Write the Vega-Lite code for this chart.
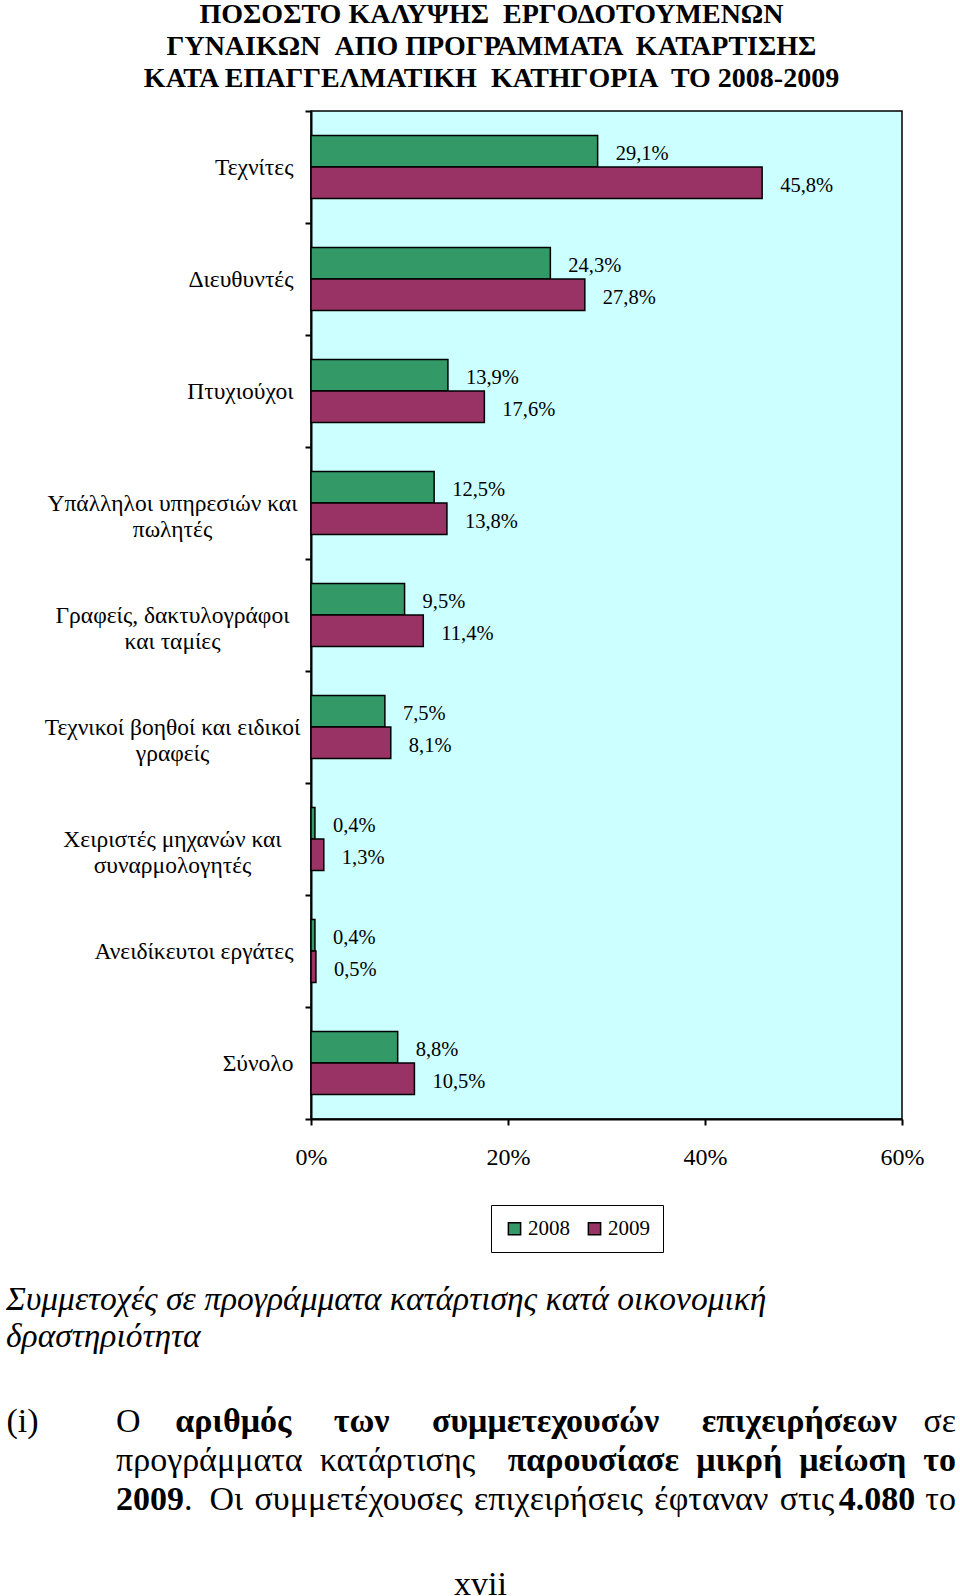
{
  "$schema": "https://vega.github.io/schema/vega-lite/v6.json",
  "padding": {"left": 5, "top": 0, "right": 0, "bottom": 0},
  "background": "white",
  "spacing": 112,
  "config": {
    "font": "Liberation Serif",
    "locale": {"number": {"decimal": ",", "thousands": ".", "grouping": [3], "currency": ["", " €"]}},
    "axis": {"labelColor": "black", "titleColor": "black", "labelFont": "Liberation Serif", "titleFont": "Liberation Serif"},
    "title": {"color": "black", "font": "Liberation Serif"}
  },
  "vconcat": [
    {
      "title": {
        "text": ["ΠΟΣΟΣΤΟ ΚΑΛΥΨΗΣ \u00a0ΕΡΓΟΔΟΤΟΥΜΕΝΩΝ", "ΓΥΝΑΙΚΩΝ \u00a0ΑΠΟ ΠΡΟΓΡΑΜΜΑΤΑ \u00a0ΚΑΤΑΡΤΙΣΗΣ", "ΚΑΤΑ ΕΠΑΓΓΕΛΜΑΤΙΚΗ \u00a0ΚΑΤΗΓΟΡΙΑ \u00a0ΤΟ 2008-2009"],
        "fontSize": 28,
        "fontWeight": "bold",
        "lineHeight": 32,
        "offset": 6,
        "anchor": "middle",
        "dx": -115
      },
      "width": 591,
      "height": 1008,
      "view": {"fill": "#CCFFFF", "stroke": "black", "strokeWidth": 1.5},
      "data": {"values": [
        {"category": "Τεχνίτες", "year": "2008", "share": 0.291},
        {"category": "Τεχνίτες", "year": "2009", "share": 0.458},
        {"category": "Διευθυντές", "year": "2008", "share": 0.243},
        {"category": "Διευθυντές", "year": "2009", "share": 0.278},
        {"category": "Πτυχιούχοι", "year": "2008", "share": 0.139},
        {"category": "Πτυχιούχοι", "year": "2009", "share": 0.176},
        {"category": "Υπάλληλοι υπηρεσιών και\nπωλητές", "year": "2008", "share": 0.125},
        {"category": "Υπάλληλοι υπηρεσιών και\nπωλητές", "year": "2009", "share": 0.138},
        {"category": "Γραφείς, δακτυλογράφοι\nκαι ταμίες", "year": "2008", "share": 0.095},
        {"category": "Γραφείς, δακτυλογράφοι\nκαι ταμίες", "year": "2009", "share": 0.114},
        {"category": "Τεχνικοί βοηθοί και ειδικοί\nγραφείς", "year": "2008", "share": 0.075},
        {"category": "Τεχνικοί βοηθοί και ειδικοί\nγραφείς", "year": "2009", "share": 0.081},
        {"category": "Χειριστές μηχανών και\nσυναρμολογητές", "year": "2008", "share": 0.004},
        {"category": "Χειριστές μηχανών και\nσυναρμολογητές", "year": "2009", "share": 0.013},
        {"category": "Ανειδίκευτοι εργάτες", "year": "2008", "share": 0.004},
        {"category": "Ανειδίκευτοι εργάτες", "year": "2009", "share": 0.005},
        {"category": "Σύνολο", "year": "2008", "share": 0.088},
        {"category": "Σύνολο", "year": "2009", "share": 0.105}
      ]},
      "encoding": {
        "y": {
          "field": "category", "type": "nominal", "sort": null,
          "scale": {"paddingInner": 0, "paddingOuter": 0},
          "axis": {
            "title": null,
            "labelExpr": "split(datum.label, '\\n')",
            "labelFontSize": 23.5,
            "labelLineHeight": 26,
            "labelLimit": 400,
            "labelAlign": {"condition": {"test": "indexof(datum.label, '\\n') >= 0", "value": "center"}, "value": "right"},
            "labelPadding": {"condition": {"test": "indexof(datum.label, '\\n') >= 0", "value": 133}, "value": 12},
            "labelBaseline": "middle",
            "tickBand": "extent",
            "tickColor": "black",
            "tickWidth": 2,
            "tickSize": 6,
            "domainColor": "black",
            "domainWidth": 2,
            "minExtent": 305
          }
        },
        "x": {
          "field": "share", "type": "quantitative",
          "scale": {"domain": [0, 0.6]},
          "axis": {
            "title": null,
            "format": ".0%",
            "values": [0, 0.2, 0.4, 0.6],
            "grid": false,
            "labelFontSize": 24,
            "labelPadding": 20,
            "labelFlush": false,
            "tickColor": "black",
            "tickWidth": 2,
            "tickSize": 6,
            "domainColor": "black",
            "domainWidth": 2
          }
        },
        "yOffset": {"field": "year", "type": "nominal", "scale": {"paddingOuter": 0.78, "paddingInner": 0}}
      },
      "layer": [
        {
          "mark": {"type": "bar", "stroke": "black", "strokeWidth": 1.5},
          "encoding": {
            "color": {
              "field": "year", "type": "nominal",
              "scale": {"domain": ["2008", "2009"], "range": ["#339966", "#993366"]},
              "legend": {
                "orient": "none",
                "legendX": 180,
                "legendY": 1094,
                "direction": "horizontal",
                "title": null,
                "strokeColor": "black",
                "fillColor": "white",
                "padding": 13,
                "labelFont": "Liberation Serif",
                "labelFontSize": 21,
                "labelColor": "black",
                "labelOffset": 3,
                "columnPadding": 14,
                "symbolType": "square",
                "symbolSize": 150,
                "symbolStrokeColor": "black",
                "symbolStrokeWidth": 1.5
              }
            }
          }
        },
        {
          "mark": {"type": "text", "align": "left", "baseline": "middle", "dx": 18, "dy": 3, "fontSize": 20.5, "color": "black"},
          "encoding": {
            "text": {"field": "share", "type": "quantitative", "format": ".1%"}
          }
        }
      ]
    },
    {
      "title": {
        "text": ["Συμμετοχές σε προγράμματα κατάρτισης κατά οικονομική", "δραστηριότητα"],
        "anchor": "start",
        "frame": "bounds",
        "fontStyle": "italic",
        "fontWeight": "normal",
        "fontSize": 33.5,
        "lineHeight": 37,
        "offset": 48
      },
      "width": 645,
      "height": 117,
      "view": {"stroke": null, "fill": null},
      "data": {"values": [
        {"line": 1, "anchor": "start", "em": false, "text": "Ο"},
        {"line": 1, "anchor": "middle", "em": true, "text": "αριθμός \u00a0\u00a0\u00a0\u00a0των \u00a0\u00a0\u00a0\u00a0συμμετεχουσών \u00a0\u00a0\u00a0\u00a0επιχειρήσεων"},
        {"line": 1, "anchor": "end", "em": false, "text": "σε"},
        {"line": 2, "anchor": "start", "em": false, "text": "προγράμματα \u00a0κατάρτισης"},
        {"line": 2, "anchor": "end", "em": true, "text": "παρουσίασε \u00a0μικρή \u00a0μείωση \u00a0το"},
        {"line": 3, "anchor": "start", "em": true, "text": "2009"},
        {"line": 3, "anchor": "start", "em": false, "text": "\u200b\u00a0\u00a0\u00a0\u00a0\u00a0\u00a0\u00a0\u00a0. \u00a0Οι \u200aσυμμετέχουσες \u200aεπιχειρήσεις \u200aέφταναν \u200aστις"},
        {"line": 3, "anchor": "end", "em": true, "text": "4.080\u00a0\u00a0\u00a0\u00a0\u2009\u200b"},
        {"line": 3, "anchor": "end", "em": false, "text": "το"}
      ]},
      "encoding": {
        "y": {
          "field": "line", "type": "ordinal",
          "scale": {"type": "band", "paddingInner": 0, "paddingOuter": 0},
          "axis": {
            "title": null,
            "labelExpr": "datum.value == 1 ? '(i)' : ''",
            "labelAlign": "left",
            "labelPadding": 305,
            "labelFontSize": 34,
            "labelBaseline": "middle",
            "ticks": false,
            "domain": false
          }
        },
        "x": {
          "field": "anchor", "type": "ordinal",
          "scale": {"type": "point", "domain": ["start", "middle", "end"], "range": [-195, 645], "padding": 0},
          "axis": {
            "labels": false,
            "ticks": false,
            "domain": false,
            "title": "xvii",
            "titleFontSize": 34,
            "titleFontWeight": "normal",
            "titlePadding": 48,
            "titleX": 169
          }
        },
        "text": {"field": "text"}
      },
      "layer": [
        {"transform": [{"filter": {"and": [{"field": "anchor", "equal": "start"}, {"field": "em", "equal": false}]}}],
         "mark": {"type": "text", "align": "left", "baseline": "middle", "fontSize": 34, "color": "black"}},
        {"transform": [{"filter": {"and": [{"field": "anchor", "equal": "start"}, {"field": "em", "equal": true}]}}],
         "mark": {"type": "text", "align": "left", "baseline": "middle", "fontSize": 34, "fontWeight": "bold", "color": "black"}},
        {"transform": [{"filter": {"and": [{"field": "anchor", "equal": "middle"}, {"field": "em", "equal": true}]}}],
         "mark": {"type": "text", "align": "center", "baseline": "middle", "fontSize": 34, "fontWeight": "bold", "color": "black"}},
        {"transform": [{"filter": {"and": [{"field": "anchor", "equal": "end"}, {"field": "em", "equal": false}]}}],
         "mark": {"type": "text", "align": "right", "baseline": "middle", "fontSize": 34, "color": "black"}},
        {"transform": [{"filter": {"and": [{"field": "anchor", "equal": "end"}, {"field": "em", "equal": true}]}}],
         "mark": {"type": "text", "align": "right", "baseline": "middle", "fontSize": 34, "fontWeight": "bold", "color": "black"}}
      ]
    }
  ]
}
